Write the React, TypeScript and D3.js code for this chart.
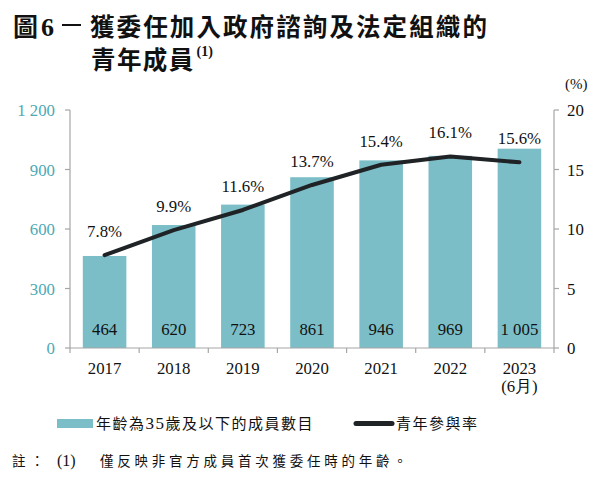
import React from "react";
import * as d3 from "d3";

const categories = ["2017", "2018", "2019", "2020", "2021", "2022", "2023"];
const categorySub = ["", "", "", "", "", "", "(6月)"];
const members = [464, 620, 723, 861, 946, 969, 1005];
const memberLabels = ["464", "620", "723", "861", "946", "969", "1 005"];
const rates = [7.8, 9.9, 11.6, 13.7, 15.4, 16.1, 15.6];
const leftTicks = [0, 300, 600, 900, 1200];
const leftTickLabels = ["0", "300", "600", "900", "1 200"];
const rightTicks = [0, 5, 10, 15, 20];

const W = 600;
const H = 479;
const M = { left: 70, right: 554, top: 110, bottom: 348 };
const TEAL = "#7bbec7";
const TEAL_TEXT = "#4da9b5";
const DARK = "#1f2326";
const AXIS = "#a6a6a6";
const SERIF = "'Liberation Serif', 'Times New Roman', serif";
const CJK = "'Noto Sans CJK TC', 'Noto Sans CJK SC', sans-serif";
const FS = 16.8;

export default function App() {
  const x = d3.scaleBand<string>().domain(categories).range([M.left, M.right]).paddingInner(0.37).paddingOuter(0.185);
  const xb = d3.scaleBand<string>().domain(categories).range([M.left, M.right]);
  const yL = d3.scaleLinear().domain([0, 1200]).range([M.bottom, M.top]);
  const yR = d3.scaleLinear().domain([0, 20]).range([M.bottom, M.top]);
  const cx = (c: string) => (x(c) as number) + x.bandwidth() / 2;
  const line = d3
    .line<number>()
    .x((_, i) => cx(categories[i]))
    .y((d) => yR(d));

  const boundaries = categories.map((c) => xb(c) as number).concat([M.right]);

  return (
    <svg width={W} height={H} style={{ position: "absolute", left: 0, top: 0, background: "#fff" }}>
      <rect width={W} height={H} fill="#fff" />
      {/* Title */}
      <text x={13} y={36} fontFamily={CJK} fontWeight={700} fontSize={25} fill="#111">
        圖
      </text>
      <text x={41} y={36} fontFamily={SERIF} fontWeight={700} fontSize={26} fill="#111">
        6
      </text>
      <line x1={62} x2={81} y1={25} y2={25} stroke="#111" strokeWidth={2} />
      <text x={90} y={36} fontFamily={CJK} fontWeight={700} fontSize={24.5} fill="#111" letterSpacing={2.1}>
        獲委任加入政府諮詢及法定組織的
      </text>
      <text x={91} y={69} fontFamily={CJK} fontWeight={700} fontSize={24.5} fill="#111" letterSpacing={1.4}>
        青年成員
        <tspan fontFamily={SERIF} fontSize={14} dx={2} dy={-13} letterSpacing={0}>
          (1)
        </tspan>
      </text>

      {/* Bars */}
      {members.map((v, i) => (
        <rect key={i} x={x(categories[i])} y={yL(v)} width={x.bandwidth()} height={yL(0) - yL(v)} fill={TEAL} />
      ))}
      {members.map((v, i) => (
        <text key={i} x={cx(categories[i])} y={335} textAnchor="middle" fontFamily={SERIF} fontSize={FS} fill="#111">
          {memberLabels[i]}
        </text>
      ))}

      {/* Left axis */}
      <line x1={M.left} x2={M.left} y1={M.top} y2={M.bottom} stroke={AXIS} strokeWidth={1.2} />
      {leftTicks.map((t, i) => (
        <g key={t}>
          <line x1={M.left - 5} x2={M.left} y1={yL(t)} y2={yL(t)} stroke={AXIS} strokeWidth={1.2} />
          <text x={55} y={yL(t) + 6} textAnchor="end" fontFamily={SERIF} fontSize={FS} fill={TEAL_TEXT}>
            {leftTickLabels[i]}
          </text>
        </g>
      ))}

      {/* Right axis */}
      <line x1={M.right} x2={M.right} y1={M.top} y2={M.bottom} stroke={AXIS} strokeWidth={1.2} />
      {rightTicks.map((t) => (
        <g key={t}>
          <line x1={M.right} x2={M.right + 5} y1={yR(t)} y2={yR(t)} stroke={AXIS} strokeWidth={1.2} />
          <text x={567} y={yR(t) + 6} fontFamily={SERIF} fontSize={FS} fill="#111">
            {t}
          </text>
        </g>
      ))}
      <text x={565} y={89} fontFamily={SERIF} fontSize={15} fill="#111">
        (%)
      </text>

      {/* Bottom axis */}
      <line x1={M.left} x2={M.right} y1={M.bottom} y2={M.bottom} stroke={AXIS} strokeWidth={1.2} />
      {boundaries.map((b, i) => (
        <line key={i} x1={b} x2={b} y1={M.bottom} y2={M.bottom + 5} stroke={AXIS} strokeWidth={1.2} />
      ))}
      {categories.map((c, i) => (
        <g key={c}>
          <text x={cx(c)} y={374} textAnchor="middle" fontFamily={SERIF} fontSize={FS} fill="#111">
            {c}
          </text>
          {categorySub[i] && (
            <text x={cx(c)} y={392} textAnchor="middle" fontFamily={SERIF} fontSize={FS} fill="#111">
              {categorySub[i]}
            </text>
          )}
        </g>
      ))}

      {/* Line */}
      <path d={line(rates) || ""} fill="none" stroke={DARK} strokeWidth={4} strokeLinejoin="round" strokeLinecap="round" />
      {rates.map((r, i) => (
        <text key={i} x={cx(categories[i])} y={yR(r) - 18} textAnchor="middle" fontFamily={SERIF} fontSize={FS} fill="#111">
          {r.toFixed(1)}%
        </text>
      ))}

      {/* Legend */}
      <rect x={57} y={419} width={36} height={9} fill={TEAL} />
      <text x={96} y={429} fontFamily={CJK} fontSize={15} fill="#111" letterSpacing={1.5}>
        年齡為<tspan fontFamily={SERIF} fontSize={17}>35</tspan>歲及以下的成員數目
      </text>
      <line x1={356} x2={392} y1={423.5} y2={423.5} stroke={DARK} strokeWidth={5} strokeLinecap="round" />
      <text x={396} y={429} fontFamily={CJK} fontSize={15} fill="#111" letterSpacing={1.5}>
        青年參與率
      </text>

      {/* Note */}
      <text x={12} y={466} fontFamily={CJK} fontSize={13.5} fill="#111" letterSpacing={5}>
        註：
      </text>
      <text x={57} y={466} fontFamily={SERIF} fontSize={16} fill="#111">
        (1)
      </text>
      <text x={100} y={466} fontFamily={CJK} fontSize={13.5} fill="#111" letterSpacing={3.75}>
        僅反映非官方成員首次獲委任時的年齡。
      </text>
    </svg>
  );
}
